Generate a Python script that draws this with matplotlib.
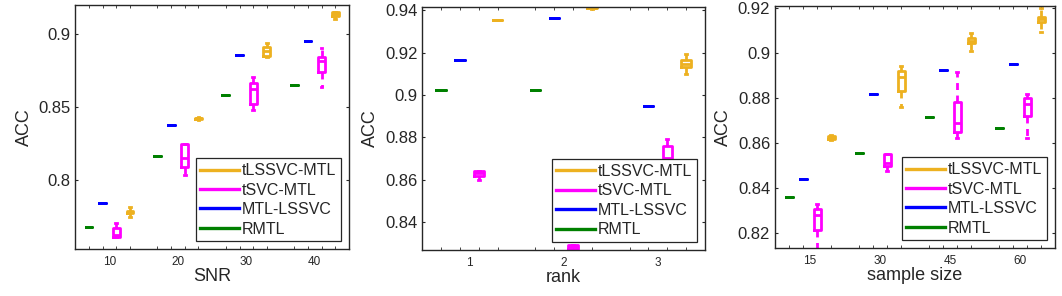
import numpy as np
import matplotlib
matplotlib.use('Agg')
import matplotlib.pyplot as plt
from matplotlib.lines import Line2D

plt.rcParams['font.family'] = ['Liberation Sans', 'DejaVu Sans']

methods = ['RMTL', 'MTL-LSSVC', 'tSVC-MTL', 'tLSSVC-MTL']
colors = ['#008000', '#0000FF', '#FF00FF', '#EDB120']

# ---- panel 1: SNR ----
snr = [10, 20, 30, 40]
snr_rmtl = [0.7682, 0.8169, 0.8582, 0.8651]
snr_lssvc = [0.7842, 0.8377, 0.8858, 0.8952]
# (whislo, q1, med, q3, whishi)
snr_tsvc = [(0.7614, 0.7614, 0.7625, 0.7670, 0.7710),
            (0.8036, 0.8093, 0.8155, 0.8247, 0.8247),
            (0.8482, 0.8523, 0.8623, 0.8669, 0.8710),
            (0.8637, 0.8744, 0.8819, 0.8842, 0.8904)]
snr_tlssvc = [(0.7747, 0.7775, 0.7783, 0.7790, 0.7819),
              (0.8415, 0.8420, 0.8425, 0.8430, 0.8435),
              (0.8842, 0.8851, 0.8888, 0.8915, 0.8938),
              (0.9103, 0.9123, 0.9139, 0.9150, 0.9153)]

# ---- panel 2: rank ----
rank = [1, 2, 3]
rank_rmtl = [0.9025, 0.9025, 0.8550]
rank_lssvc = [0.9167, 0.9361, 0.8949]
rank_tsvc = [(0.8601, 0.8620, 0.8631, 0.8640, 0.8640),
             (0.8260, 0.8275, 0.8283, 0.8292, 0.8292),
             (0.8560, 0.8640, 0.8702, 0.8758, 0.8793)]
rank_tlssvc = [(0.9351, 0.9351, 0.9351, 0.9351, 0.9351),
               (0.9405, 0.9408, 0.9412, 0.9418, 0.9420),
               (0.9097, 0.9132, 0.9148, 0.9164, 0.9195)]

# ---- panel 3: sample size ----
size = [15, 30, 45, 60]
size_rmtl = [0.8363, 0.8558, 0.8717, 0.8667]
size_lssvc = [0.8440, 0.8818, 0.8926, 0.8951]
size_tsvc = [(0.8100, 0.8215, 0.8281, 0.8308, 0.8329),
             (0.8478, 0.8500, 0.8511, 0.8552, 0.8552),
             (0.8625, 0.8649, 0.8689, 0.8785, 0.8916),
             (0.8625, 0.8723, 0.8773, 0.8803, 0.8819)]
size_tlssvc = [(0.8616, 0.8620, 0.8627, 0.8632, 0.8636),
               (0.8763, 0.8832, 0.8893, 0.8921, 0.8945),
               (0.9012, 0.9044, 0.9055, 0.9067, 0.9089),
               (0.9096, 0.9138, 0.9150, 0.9163, 0.9200)]


def make_stats(vals):
    out = []
    for v in vals:
        if np.isscalar(v):
            v = (v, v, v, v, v)
        lo, q1, med, q3, hi = v
        out.append(dict(whislo=lo, q1=q1, med=med, q3=q3, whishi=hi, fliers=[]))
    return out


def draw_panel(ax, groups, step, data, xlabel, ylim, yticks, yticklabels):
    offs = np.array([-0.3, -0.1, 0.1, 0.3]) * step
    w = 0.1 * step
    minor = []
    for k, vals in enumerate(data):
        c = colors[k]
        pos = [g + offs[k] for g in groups]
        minor += pos
        ax.bxp(make_stats(vals), positions=pos, widths=w, showfliers=False,
               capwidths=w * 0.25, manage_ticks=False,
               boxprops=dict(color=c, lw=2),
               medianprops=dict(color=c, lw=2),
               whiskerprops=dict(color=c, lw=2, ls=(0, (2.5, 2))),
               capprops=dict(color=c, lw=2))
    ax.set_xlim(groups[0] - 0.5 * step, groups[-1] + 0.5 * step)
    ax.set_xticks(groups)
    ax.set_xticklabels([str(g) for g in groups])
    ax.set_xticks(sorted(minor), minor=True)
    ax.tick_params(axis='x', which='major', length=0, labelsize=8.5, pad=5,
                   colors='#262626')
    ax.tick_params(axis='x', which='minor', length=2.5, direction='in',
                   top=True, bottom=True, color='#262626')
    ax.set_ylim(*ylim)
    ax.set_yticks(yticks)
    ax.set_yticklabels(yticklabels)
    ax.tick_params(axis='y', length=2.5, direction='in', left=True, right=True,
                   labelsize=12, colors='#262626')
    ax.set_ylabel('ACC', fontsize=13, color='#262626')
    ax.set_xlabel(xlabel, fontsize=13, color='#262626', labelpad=0)
    for s in ax.spines.values():
        s.set_color('#262626')
        s.set_linewidth(1.0)
    handles = [Line2D([], [], color=colors[k], lw=2.4) for k in range(3, -1, -1)]
    labels = [methods[k] for k in range(3, -1, -1)]
    leg = ax.legend(handles, labels, loc='lower right', fontsize=11.5,
                    fancybox=False, framealpha=1, edgecolor='#262626',
                    handlelength=2.4, handletextpad=0.2, labelspacing=0.28,
                    borderpad=0.3, borderaxespad=0.5)
    leg.get_frame().set_linewidth(0.9)
    for t in leg.get_texts():
        t.set_color('#262626')


W, H = 1062, 296
fig = plt.figure(figsize=(W / 100, H / 100), dpi=100)

boxes = [(75.3, 349, 4.7, 249.3), (422.3, 705, 6.7, 250), (775, 1055, 6, 248.3)]
axs = []
for (l, r, t, b) in boxes:
    axs.append(fig.add_axes([l / W, 1 - b / H, (r - l) / W, (b - t) / H]))

draw_panel(axs[0], snr, 10, [snr_rmtl, snr_lssvc, snr_tsvc, snr_tlssvc], 'SNR',
           (0.7527, 0.9203), [0.8, 0.85, 0.9], ['0.8', '0.85', '0.9'])
draw_panel(axs[1], rank, 1, [rank_rmtl, rank_lssvc, rank_tsvc, rank_tlssvc], 'rank',
           (0.8269, 0.9416), [0.84, 0.86, 0.88, 0.9, 0.92, 0.94],
           ['0.84', '0.86', '0.88', '0.9', '0.92', '0.94'])
draw_panel(axs[2], size, 15, [size_rmtl, size_lssvc, size_tsvc, size_tlssvc], 'sample size',
           (0.8133, 0.921), [0.82, 0.84, 0.86, 0.88, 0.9, 0.92],
           ['0.82', '0.84', '0.86', '0.88', '0.9', '0.92'])

fig.savefig('out.png', dpi=100)
